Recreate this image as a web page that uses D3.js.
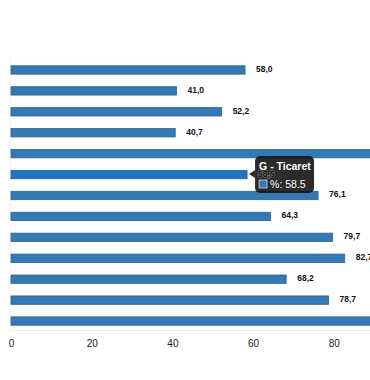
<!DOCTYPE html>
<html>
<head>
<meta charset="utf-8">
<script src="https://cdn.jsdelivr.net/npm/d3@7"></script>
<style>
  body { margin: 0; background: #fff; }
  svg { display: block; font-family: "Liberation Sans", Arial, sans-serif; }
</style>
</head>
<body>
<div id="chart"></div>
<script>
// sektörler (sadece G görünüyor, diğerleri tahmin)
const sectors = ["B - Madencilik", "C - İmalat", "D - Elektrik", "E - Su temini", "F - İnşaat",
  "G - Ticaret", "H - Ulaştırma", "I - Konaklama", "J - Bilgi ve iletişim", "K - Finans",
  "L - Gayrimenkul", "M - Mesleki", "N - İdari"];
const percents = [58.0, 41.0, 52.2, 40.7, 93.0, 58.5, 76.1, 64.3, 79.7, 82.7, 68.2, 78.7, 94.5];
const xTicks = [0, 20, 40, 60, 80, 100];
const hovered = "G - Ticaret";

const width = 370, height = 380;

const svg = d3.select("#chart").append("svg")
  .attr("width", width)
  .attr("height", height);

const x = d3.scaleLinear().domain([0, 100]).range([11, 414.5]);
const y = d3.scaleBand().domain(sectors).range([59.5, 331.5])
  .paddingInner(0.6).paddingOuter(0.3);

// cadre léger du plot
svg.append("line")
  .attr("x1", x(0) - 1).attr("x2", width)
  .attr("y1", 330.5).attr("y2", 330.5)
  .attr("stroke", "#ececec");
svg.append("line")
  .attr("x1", x(0) - 0.5).attr("x2", x(0) - 0.5)
  .attr("y1", 59).attr("y2", 331)
  .attr("stroke", "#f2f2f2");

// barres
svg.append("g").selectAll("rect")
  .data(sectors).enter().append("rect")
  .attr("x", x(0))
  .attr("y", d => y(d))
  .attr("width", (d, i) => x(percents[i]) - x(0))
  .attr("height", y.bandwidth())
  .attr("fill", d => d == hovered ? "#1f76c4" : "#3579b4")
  .attr("stroke", d => d == hovered ? "#1a5f9e" : "#2b618f")
  .attr("stroke-width", 0.8);

// axe x
const xAxis = d3.axisBottom(x).tickValues(xTicks).tickSize(0).tickPadding(0);
const gx = svg.append("g")
  .attr("transform", "translate(0, 340)")
  .call(xAxis);
gx.select(".domain").remove();
gx.selectAll("text")
  .attr("dy", "0.71em")
  .attr("font-size", 10)
  .attr("fill", "#222")
  .attr("font-family", "'Liberation Sans', Arial, sans-serif");

// tooltip
const hi = sectors.indexOf(hovered);
const tipX = x(percents[hi]) + 8, tipY = 156;
const tip = svg.append("g").attr("transform", `translate(${tipX}, ${tipY})`);
tip.append("path")
  .attr("d", "M0,14 L-6,18 L0,22 Z")
  .attr("fill", "rgba(20,20,20,0.9)");
tip.append("rect")
  .attr("width", 59).attr("height", 37).attr("rx", 5)
  .attr("fill", "rgba(20,20,20,0.9)");
tip.append("text")
  .attr("x", 4).attr("y", 14)
  .attr("font-size", 10.5).attr("font-weight", "bold")
  .attr("fill", "#fff")
  .text(hovered);
tip.append("rect")
  .attr("x", 4).attr("y", 24).attr("width", 8).attr("height", 8)
  .attr("fill", "#3579b4").attr("stroke", "#fff").attr("stroke-width", 0.6);
tip.append("text")
  .attr("x", 15).attr("y", 32)
  .attr("font-size", 10.5)
  .attr("fill", "#fff")
  .text("%: " + percents[hi]);

// étiquettes des valeurs
svg.append("g").selectAll("text")
  .data(sectors).enter().append("text")
  .attr("x", (d, i) => x(percents[i]) + 11)
  .attr("y", d => y(d) + y.bandwidth() / 2 - 1)
  .attr("dy", "0.35em")
  .attr("font-size", 8.5)
  .attr("font-weight", "bold")
  .attr("fill", "#111")
  .attr("stroke", "rgba(255,255,255,0.35)")
  .attr("stroke-width", 1.2)
  .attr("paint-order", "stroke")
  .text((d, i) => percents[i].toFixed(1).replace(".", ","));
</script>
</body>
</html>
